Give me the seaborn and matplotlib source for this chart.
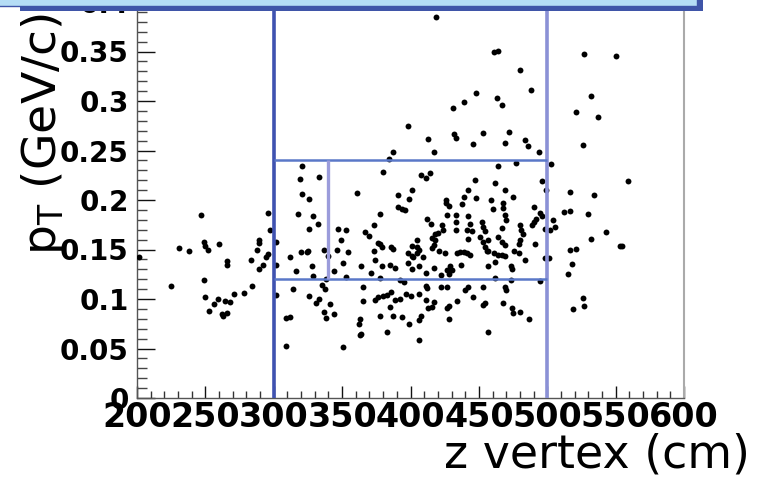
import matplotlib
matplotlib.use("Agg")
import matplotlib.pyplot as plt
from matplotlib.patches import Rectangle
from matplotlib.ticker import FixedLocator, MultipleLocator
import pandas as pd
import seaborn as sns

# Reconstructed tracks: z vertex (cm) and transverse momentum (GeV/c)
z_vertex = [
    419, 431, 398, 413, 432, 433, 417, 387, 384, 321, 333, 319, 380, 408, 411, 414,
    321, 326, 361, 391, 401, 399, 426, 461, 464, 527, 550, 480, 448, 488, 532, 439,
    463, 467, 521, 537, 453, 446, 472, 469, 484, 486, 494, 526, 503, 477, 464, 447,
    462, 496, 559, 442, 469, 439, 475, 517, 534, 448, 459, 499, 247, 231, 238, 249,
    250, 252, 260, 266, 266, 283, 289, 289, 296, 297, 288, 294, 296, 289, 292, 225,
    249, 250, 256, 259, 253, 264, 268, 262, 266, 263, 271, 278, 284, 302, 302, 302,
    201.5, 318, 329, 332, 326, 378, 391, 394, 396, 347, 353, 367, 370, 373, 349, 378,
    379, 376, 387, 386, 401, 312, 320, 324, 325, 337, 339.5, 346, 354, 373, 374, 364,
    351, 344, 316, 328, 329, 338, 353, 371, 379, 385, 389, 401, 398, 378, 392, 395,
    365.5, 314, 335.5, 337.5, 326, 333, 331, 341, 365, 374, 376.5, 380, 383, 386, 392, 389,
    397, 400, 385, 337, 338, 344, 309, 312, 363, 362, 378, 387, 394, 399, 364, 363,
    383, 309, 351, 406, 408, 428, 426.5, 428, 417, 415.5, 411, 412, 422, 426.5, 406, 434,
    411, 417, 422, 426.5, 428, 409, 404.5, 402, 405, 416, 418, 417, 412, 415, 420, 424,
    426, 428, 426.5, 433, 433, 421, 425, 429, 430, 460, 468, 468, 438, 423, 433, 442,
    443.5, 445, 452, 453, 454.5, 467, 469, 470, 480, 481, 482.5, 490, 489, 492, 495, 496,
    498, 490, 418, 415.5, 441, 442, 451, 456.5, 453, 454.5, 456, 464, 467, 469, 480, 479,
    491, 404.5, 406, 398, 401, 434, 436, 439, 441, 443.5, 457, 461, 464, 467, 469, 476,
    479, 484, 498, 501, 406, 437, 456.5, 462, 473.5, 474, 462, 473.5, 495, 440, 442, 453,
    469, 470, 446, 413, 411, 453, 454.5, 468, 474, 475, 480, 487, 406, 456.5, 512, 517,
    530, 504, 506, 502, 543, 532, 553, 555, 517, 521, 518, 515, 526, 527, 519,
]
pt = [
    0.385, 0.293, 0.275, 0.262, 0.267, 0.263, 0.248, 0.248, 0.241, 0.234, 0.223, 0.221, 0.228, 0.225, 0.222, 0.227,
    0.206, 0.201, 0.207, 0.205, 0.210, 0.201, 0.200, 0.350, 0.351, 0.347, 0.345, 0.331, 0.308, 0.311, 0.305, 0.299,
    0.303, 0.296, 0.289, 0.284, 0.268, 0.257, 0.269, 0.258, 0.261, 0.255, 0.248, 0.256, 0.236, 0.237, 0.234, 0.220,
    0.217, 0.219, 0.219, 0.210, 0.210, 0.203, 0.203, 0.208, 0.205, 0.202, 0.200, 0.210, 0.185, 0.152, 0.148, 0.158,
    0.154, 0.149, 0.156, 0.138, 0.134, 0.139, 0.160, 0.157, 0.187, 0.170, 0.150, 0.142, 0.145, 0.130, 0.134, 0.113,
    0.119, 0.102, 0.095, 0.100, 0.088, 0.098, 0.097, 0.085, 0.086, 0.083, 0.105, 0.106, 0.113, 0.158, 0.134, 0.104,
    0.142, 0.186, 0.184, 0.176, 0.171, 0.186, 0.193, 0.191, 0.190, 0.171, 0.170, 0.168, 0.164, 0.175, 0.160, 0.156,
    0.153, 0.157, 0.151, 0.153, 0.154, 0.142, 0.147, 0.147, 0.148, 0.149, 0.143, 0.149, 0.147, 0.148, 0.139, 0.133,
    0.136, 0.128, 0.128, 0.133, 0.123, 0.120, 0.122, 0.126, 0.133, 0.134, 0.131, 0.130, 0.136, 0.121, 0.119, 0.117,
    0.112, 0.110, 0.114, 0.110, 0.103, 0.100, 0.096, 0.095, 0.098, 0.099, 0.102, 0.103, 0.104, 0.107, 0.100, 0.099,
    0.105, 0.103, 0.092, 0.087, 0.081, 0.085, 0.081, 0.082, 0.080, 0.075, 0.083, 0.083, 0.082, 0.075, 0.065, 0.064,
    0.067, 0.053, 0.052, 0.059, 0.083, 0.080, 0.091, 0.093, 0.097, 0.092, 0.113, 0.111, 0.112, 0.112, 0.105, 0.098,
    0.126, 0.131, 0.124, 0.129, 0.125, 0.142, 0.146, 0.142, 0.160, 0.162, 0.160, 0.155, 0.181, 0.176, 0.167, 0.170,
    0.197, 0.194, 0.185, 0.185, 0.170, 0.148, 0.146, 0.133, 0.129, 0.191, 0.197, 0.192, 0.196, 0.175, 0.178, 0.184,
    0.176, 0.169, 0.178, 0.173, 0.169, 0.172, 0.185, 0.180, 0.175, 0.170, 0.166, 0.178, 0.175, 0.181, 0.187, 0.184,
    0.171, 0.193, 0.166, 0.152, 0.170, 0.161, 0.163, 0.160, 0.158, 0.153, 0.148, 0.163, 0.158, 0.155, 0.160, 0.156,
    0.156, 0.153, 0.149, 0.146, 0.143, 0.146, 0.147, 0.147, 0.146, 0.144, 0.148, 0.146, 0.144, 0.144, 0.143, 0.148,
    0.146, 0.139, 0.141, 0.141, 0.133, 0.134, 0.133, 0.137, 0.133, 0.130, 0.121, 0.119, 0.118, 0.109, 0.112, 0.112,
    0.112, 0.109, 0.102, 0.091, 0.099, 0.094, 0.096, 0.096, 0.091, 0.086, 0.087, 0.080, 0.079, 0.067, 0.188, 0.189,
    0.186, 0.180, 0.173, 0.170, 0.168, 0.161, 0.154, 0.154, 0.149, 0.151, 0.135, 0.125, 0.101, 0.093, 0.090,
]

# Selection cuts drawn over the scatter
z_cuts = [300, 500]
pt_window = [0.12, 0.24]
z_split = 340

x_ticks = [200, 250, 300, 350, 400, 450, 500, 550, 600]
x_tick_labels = ["200", "250", "300", "350", "400", "450", "500", "550", "600"]
y_ticks = [0, 0.05, 0.1, 0.15, 0.2, 0.25, 0.3, 0.35, 0.4]
y_tick_labels = ["0", "0.05", "0.1", "0.15", "0.2", "0.25", "0.3", "0.35", "0.4"]

sns.set_style("white")
plt.rcParams["font.family"] = ["DejaVu Sans"]
plt.rcParams["text.color"] = "black"
plt.rcParams["xtick.labelcolor"] = "black"
plt.rcParams["ytick.labelcolor"] = "black"

fig = plt.figure(figsize=(7.57, 4.80), dpi=100)
ax = fig.add_axes([137 / 757, 82 / 480, 547 / 757, 396 / 480])

df = pd.DataFrame({"z": z_vertex, "pt": pt})
sns.scatterplot(data=df, x="z", y="pt", ax=ax, color="black", s=18,
                linewidth=0, legend=False, zorder=3)

# cut lines
ax.axvline(z_cuts[0], color="#3f52b0", lw=2.6, zorder=4)
ax.axvline(z_cuts[1], color="#8b91d6", lw=2.6, zorder=4)
ax.hlines(pt_window, z_cuts[0], z_cuts[1], color="#5a78c8", lw=1.8, zorder=4)
ax.vlines(z_split, pt_window[0], pt_window[1], color="#9b9cdb", lw=2.4, zorder=4)

ax.set_xlim(200, 600)
ax.set_ylim(0, 0.4)
ax.set_xlabel("")
ax.set_ylabel("")

ax.xaxis.set_major_locator(FixedLocator(x_ticks))
ax.xaxis.set_minor_locator(MultipleLocator(10))
ax.yaxis.set_major_locator(FixedLocator(y_ticks))
ax.yaxis.set_minor_locator(MultipleLocator(0.01))
ax.set_xticklabels(x_tick_labels, fontsize=24, fontweight="bold", color="black")
ax.set_yticklabels(y_tick_labels, fontsize=20, fontweight="bold", color="black")

ax.tick_params(axis="x", which="major", direction="in", length=9, width=1,
               color="#111111", pad=2, bottom=True, top=False)
ax.tick_params(axis="x", which="minor", direction="in", length=5, width=1,
               color="#333333", bottom=True, top=False)
ax.tick_params(axis="y", which="major", direction="in", length=13, width=1,
               color="#111111", pad=6, left=True, right=False)
ax.tick_params(axis="y", which="minor", direction="in", length=7, width=1,
               color="#444444", left=True, right=False)

for side in ["left", "bottom"]:
    ax.spines[side].set_color("#555555")
    ax.spines[side].set_linewidth(1)
ax.spines["right"].set_color("#aaaaaa")
ax.spines["right"].set_linewidth(1.5)
ax.spines["top"].set_color("#aaaaaa")

# Axis titles
fig.text(750 / 757, 3 / 480, "z vertex (cm)", ha="right", va="bottom",
         fontsize=33, color="black")
fig.text(44 / 757, 467 / 480, r"$\mathrm{p_{T}}$ (GeV/c)", rotation=90,
         ha="center", va="top", fontsize=34, color="black")

# Title pave with its shadow at the top edge
fig.add_artist(Rectangle((20 / 757, 469 / 480), (703 - 20) / 757, 0.05,
                         transform=fig.transFigure, facecolor="#3f55a8",
                         edgecolor="none", zorder=10, clip_on=False))
fig.add_artist(Rectangle((-0.01, 474 / 480), 697 / 757 + 0.01, 0.05,
                         transform=fig.transFigure, facecolor="#b5ddf5",
                         edgecolor="#3f55a8", lw=1, zorder=11, clip_on=False))

fig.savefig("out.png", dpi=100)
